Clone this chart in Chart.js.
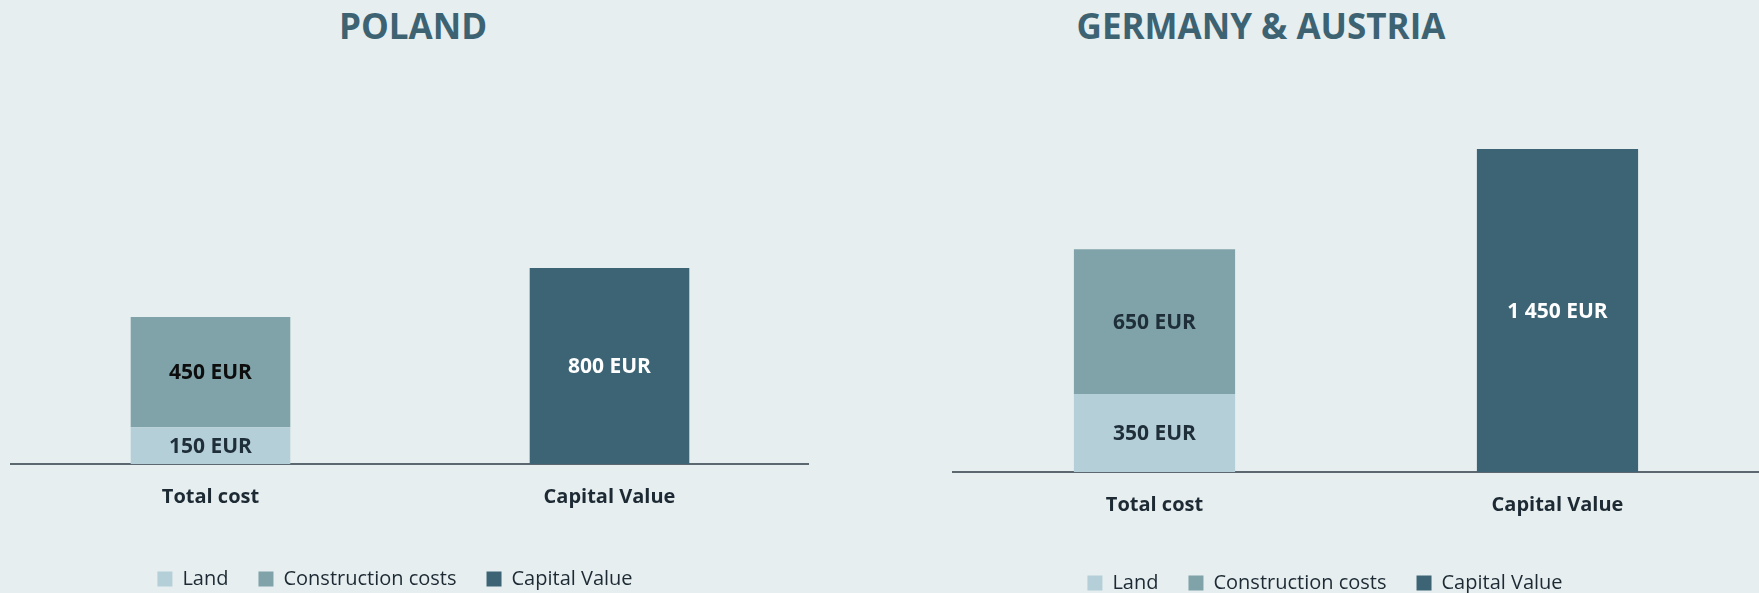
<!DOCTYPE html>
<html>
<head>
<meta charset="utf-8">
<script src="https://cdn.jsdelivr.net/npm/chart.js@4/dist/chart.umd.min.js"></script>
<style>
  html, body { margin: 0; padding: 0; width: 1759px; height: 593px; overflow: hidden; background: #e6eef0; }
  .titulo { position: absolute; top: 8px; font: bold 35px "Open Sans", sans-serif; line-height: 1; color: #3d6373; text-align: center; }
  canvas { position: absolute; }
</style>
</head>
<body>
<div class="titulo" style="left:0; width:826px;">POLAND</div>
<div class="titulo" style="left:861px; width:800px;">GERMANY &amp; AUSTRIA</div>
<canvas id="poland" width="828" height="539" style="left:-19px; top:60px;"></canvas>
<canvas id="germany" width="868" height="543" style="left:891px; top:60px;"></canvas>
<script>
// Datos de las dos gráficas
const categories = ["Total cost", "Capital Value"];
const seriesNames = ["Land", "Construction costs", "Capital Value"];

const polandLand = [150, null];
const polandConstruction = [450, null];
const polandCapital = [null, 800];

const germanyLand = [350, null];
const germanyConstruction = [650, null];
const germanyCapital = [null, 1450];

const colores = ["#b5cfd8", "#7fa3a9", "#3d6474"];

// Etiquetas de valor dentro de cada barra
const etiquetas = {
  id: "etiquetas",
  afterDatasetsDraw(chart, args, opts) {
    const ctx = chart.ctx;
    ctx.save();
    ctx.font = 'bold 21px "Open Sans", sans-serif';
    ctx.textAlign = "center";
    ctx.textBaseline = "middle";
    chart.data.datasets.forEach((ds, i) => {
      const meta = chart.getDatasetMeta(i);
      meta.data.forEach((bar, j) => {
        const v = ds.data[j];
        if (v == null) return;
        const txt = String(v).replace(/\B(?=(\d{3})+(?!\d))/g, " ") + " EUR";
        ctx.fillStyle = opts.colors[i];
        ctx.fillText(txt, bar.x, (bar.y + bar.base) / 2 + 1);
      });
    });
    ctx.restore();
  },
};

function crearGrafica(id, land, construction, capital, maxY, anchoEjeY, altoEjeX, coloresEtiqueta) {
  const series = [land, construction, capital];
  new Chart(document.getElementById(id), {
    type: "bar",
    data: {
      labels: categories,
      datasets: seriesNames.map((nombre, i) => ({
        label: nombre,
        data: series[i],
        backgroundColor: colores[i],
        borderWidth: 0,
        categoryPercentage: 1,
        barPercentage: 0.4,
      })),
    },
    options: {
      responsive: false,
      animation: false,
      layout: { padding: 0 },
      scales: {
        x: {
          stacked: true,
          grid: { display: false, drawTicks: false },
          border: { display: true, color: "#5b6870", width: 2 },
          ticks: {
            padding: 21,
            color: "#1d2a33",
            font: { family: "Open Sans", size: 20, weight: "bold" },
          },
          afterFit(scale) { scale.height = altoEjeX; },
        },
        y: {
          stacked: true,
          min: 0,
          max: maxY,
          grid: { display: false, drawTicks: false },
          border: { display: false },
          ticks: { display: false },
          afterFit(scale) { scale.width = anchoEjeY; },
        },
      },
      plugins: {
        legend: {
          position: "bottom",
          labels: {
            boxWidth: 15,
            boxHeight: 15,
            padding: 30,
            color: "#1d2a33",
            font: { family: "Open Sans", size: 20 },
          },
        },
        tooltip: { enabled: false },
        etiquetas: { colors: coloresEtiqueta },
      },
    },
    plugins: [etiquetas],
  });
}

crearGrafica("poland", polandLand, polandConstruction, polandCapital, 1650, 30, 75,
  ["#1f2f3a", "#0d0d0d", "#ffffff"]);
crearGrafica("germany", germanyLand, germanyConstruction, germanyCapital, 1850, 62, 71,
  ["#1f2f3a", "#1f2f3a", "#ffffff"]);
</script>
</body>
</html>
